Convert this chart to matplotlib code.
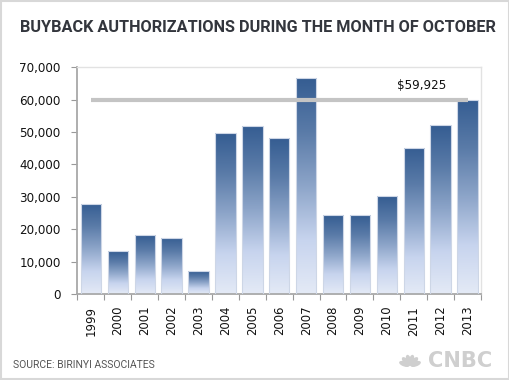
import matplotlib
matplotlib.use("Agg")
import matplotlib.pyplot as plt
import numpy as np
from matplotlib.patches import Rectangle, Ellipse
from matplotlib.colors import LinearSegmentedColormap

plt.rcParams["font.family"] = ["DejaVu Sans"]

# ---- data ----
years = ["1999", "2000", "2001", "2002", "2003", "2004", "2005", "2006",
         "2007", "2008", "2009", "2010", "2011", "2012", "2013"]
values = [27800, 13200, 18200, 17400, 7100, 49700, 52000, 48100,
          66600, 24300, 24300, 30200, 45100, 52100, 59925]
ref_value = 59925
ref_label = "$59,925"
y_ticks = [0, 10000, 20000, 30000, 40000, 50000, 60000, 70000]
title = "BUYBACK AUTHORIZATIONS DURING THE MONTH OF OCTOBER"
source = "SOURCE: BIRINYI ASSOCIATES"

W, H = 510, 380
fig = plt.figure(figsize=(W / 100, H / 100), dpi=100)
fig.patch.set_facecolor("white")

ax = fig.add_axes([77.5 / W, 1 - 294 / H, (481 - 77.5) / W, (294 - 67.3) / H])
x = np.arange(len(years))
bars = ax.bar(x, values, width=0.76, facecolor="none",
              edgecolor="#cdd6e6", linewidth=0.8, zorder=3)

cmap = LinearSegmentedColormap.from_list(
    "grad", ["#e4eaf6", "#c7d4ee", "#8da5c9", "#5a7ba8", "#355d92"])
grad = np.linspace(0, 1, 256).reshape(-1, 1)
for b in bars:
    x0, y0 = b.get_x(), b.get_y()
    w, h = b.get_width(), b.get_height()
    im = ax.imshow(grad, cmap=cmap, aspect="auto", origin="lower",
                   extent=[x0, x0 + w, y0, y0 + h], zorder=2,
                   interpolation="bilinear")
    im.set_clip_path(b)

ax.set_xlim(-0.5, len(years) - 0.5)
ax.set_ylim(0, 70000)

# reference line
ax.plot([0, len(years) - 1], [ref_value, ref_value], color="#c4c4c4",
        lw=3, solid_capstyle="butt", zorder=4)
ax.text(12.3, ref_value + 2400, ref_label, ha="center", va="bottom",
        fontsize=8.6, color="#111111", zorder=5)

ax.set_yticks(y_ticks)
ax.set_yticklabels([f"{v:,}" for v in y_ticks])
ax.set_xticks(x)
ax.set_xticklabels(years, rotation=90)
ax.set_xticks(np.arange(-0.5, len(years)), minor=True)
ax.tick_params(axis="x", which="major", length=0, pad=8.5, labelsize=8.4,
               labelcolor="#111111")
ax.tick_params(axis="x", which="minor", length=4, width=0.8, color="#999999",
               direction="out")
ax.tick_params(axis="y", length=4, width=0.8, color="#999999", pad=8,
               labelsize=8.6, labelcolor="#111111")

for s in ["left", "bottom"]:
    ax.spines[s].set_color("#a8a8a8")
    ax.spines[s].set_linewidth(1.3)
for s in ["top", "right"]:
    ax.spines[s].set_color("#e2e2e2")
    ax.spines[s].set_linewidth(1.0)

# title
renderer = fig.canvas.get_renderer()
t = fig.text(20 / W, 1 - 27 / H, title, ha="left", va="center",
             fontsize=12, fontweight="bold", color="#33363d",
             family=["Roboto", "DejaVu Sans"])
bb = t.get_window_extent(renderer)
t.set_fontsize(12 * 475 / bb.width)

s = fig.text(13 / W, 1 - 365 / H, source, ha="left", va="center",
             fontsize=6, color="#555555", family=["Roboto", "DejaVu Sans"])
bb = s.get_window_extent(renderer)
s.set_fontsize(6 * 144 / bb.width)

# CNBC logo (text + simple peacock)
c = fig.text(492 / W, 1 - 361 / H, "CNBC", ha="right", va="center",
             fontsize=11, fontweight="heavy", color="#cfcfcf",
             family=["DejaVu Sans"])
bb = c.get_window_extent(renderer)
c.set_fontsize(11 * 64 / bb.width)

lax = fig.add_axes([396 / W, 1 - 368 / H, 28 / W, 14 / H])
lax.set_xlim(-14, 14)
lax.set_ylim(-1, 13)
lax.axis("off")
for ang in np.linspace(160, 20, 6):
    r = np.deg2rad(ang)
    cx, cy = 6 * np.cos(r), 6 * np.sin(r) + 1
    lax.add_patch(Ellipse((cx, cy), 9.5, 3.6, angle=ang, color="#cfcfcf"))

# figure border
fig.patches.append(Rectangle((0.002, 0.003), 0.996, 0.994,
                             transform=fig.transFigure, fill=False,
                             edgecolor="#d8d8d8", lw=1.5))

fig.savefig("out.png", dpi=100, facecolor="white")
